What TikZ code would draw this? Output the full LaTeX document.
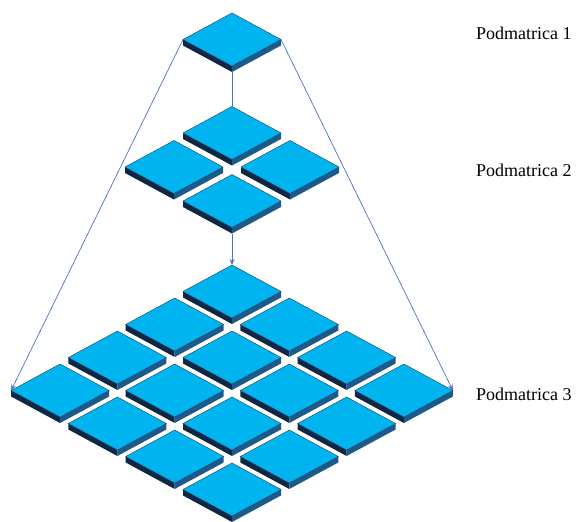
\documentclass[tikz,border=0pt]{standalone}
\usepackage{fontspec}
\setmainfont{Liberation Serif}
\usetikzlibrary{arrows.meta}
\definecolor{tiletop}{HTML}{00B4F0}
\definecolor{tileleft}{HTML}{0E2744}
\definecolor{tileright}{HTML}{1D5A8C}
\definecolor{tileedge}{HTML}{203A58}
\definecolor{arrowblue}{HTML}{4A72C8}
\tikzset{
  tile/.pic={
    \def\w{49}\def\h{26.5}\def\t{6}
    \fill[tileleft] (-\w,0) -- (0,\h) -- (0,\h+\t) -- (-\w,\t) -- cycle;
    \fill[tileright] (0,\h) -- (\w,0) -- (\w,\t) -- (0,\h+\t) -- cycle;
    \filldraw[fill=tiletop,draw=tileedge,line width=0.4pt,line join=miter] (0,-\h) -- (\w,0) -- (0,\h) -- (-\w,0) -- cycle;
    \coordinate (-T) at (0,-\h);
    \coordinate (-L) at (-\w,0);
    \coordinate (-R) at (\w,0);
    \coordinate (-B) at (0,\h+\t);
  },
  conn/.style={draw=arrowblue,line width=0.7pt},
  tip/.style={-{Stealth[length=6pt,width=5pt]}},
  lbl/.style={anchor=base west,inner sep=0pt,font=\fontsize{18}{21}\selectfont}
}
\begin{document}
\begin{tikzpicture}[x=1pt,y=-1pt]
\useasboundingbox (0,0) rectangle (576,522);
% level 1
\pic (a) at (232,39.5) {tile};
% level 2
\pic (b0) at (232,133) {tile};
\pic (b1) at (174,167) {tile};
\pic (b2) at (290,167) {tile};
\pic (b3) at (232,201) {tile};
% level 3
\foreach \s in {0,...,6}{
  \foreach \i in {0,...,3}{
    \pgfmathtruncatemacro{\j}{\s-\i}
    \ifnum\j>-1 \ifnum\j<4
      \pic (c\i\j) at ({232+(\i-\j)*57.3},{291.5+(\i+\j)*33}) {tile};
    \fi\fi
  }
}
% connectors
\draw[conn,tip] (a-L) -- (c03-L);
\draw[conn,tip] (a-R) -- (c30-R);
\draw[conn] (a-B) -- (b0-T);
\draw[conn,tip] (b3-B) -- (c00-T);
% labels
\node[lbl] (l1) at (476,39) {Podmatrica 1};
\node[lbl] (l2) at (476,176) {Podmatrica 2};
\node[lbl] (l3) at (476,400) {Podmatrica 3};
\end{tikzpicture}
\end{document}
